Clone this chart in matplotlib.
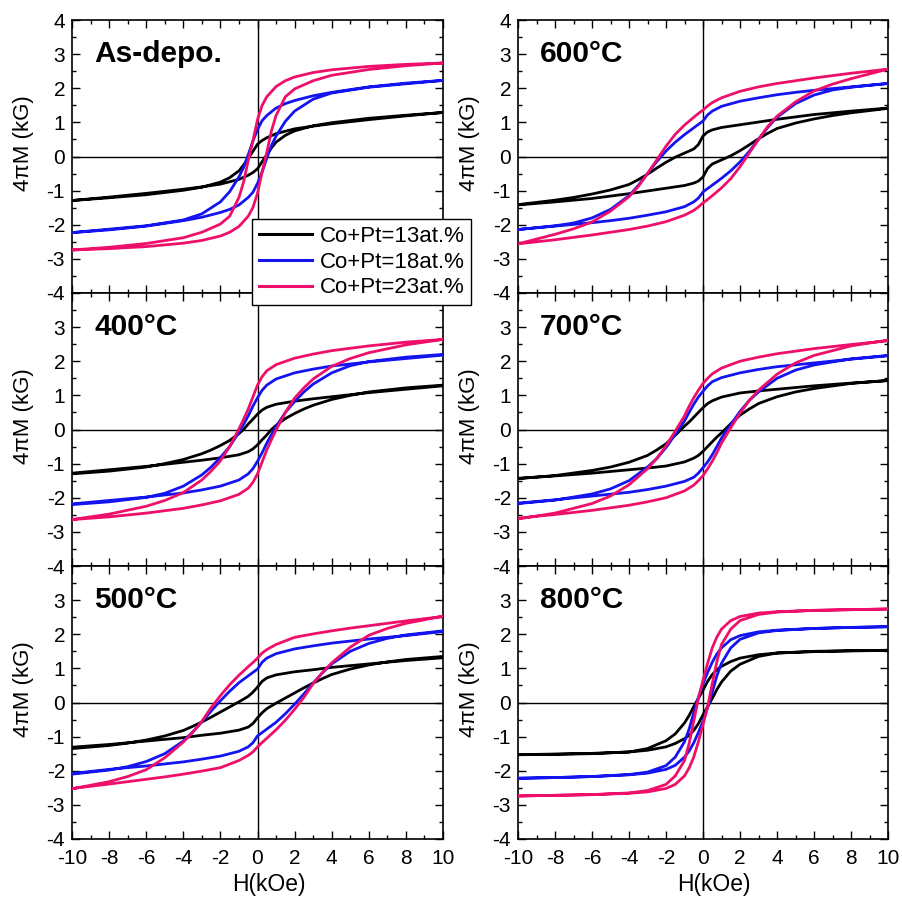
import numpy as np
import matplotlib
matplotlib.use("Agg")
import matplotlib.pyplot as plt
from matplotlib.ticker import MultipleLocator

plt.rcParams['font.family'] = ['Liberation Sans', 'DejaVu Sans']
plt.rcParams['axes.unicode_minus'] = False

# ---- data: upper (descending-field) branch of each loop, H in kOe, 4piM in kG ----
labels = ["Co+Pt=13at.%", "Co+Pt=18at.%", "Co+Pt=23at.%"]
colors = ["#000000", "#1414f0", "#ee0f6a"]

H_asdepo = [10, 8, 6, 4, 3, 2, 1.5, 1, 0.5, 0.25, 0, -0.25, -0.5, -0.75, -1, -1.5, -2, -3, -4, -6, -8, -10]
M_asdepo_13 = [1.29, 1.19, 1.08, 0.96, 0.89, 0.81, 0.74, 0.67, 0.55, 0.47, 0.36, 0.15, -0.05, -0.25, -0.42, -0.62, -0.75, -0.9, -0.99, -1.12, -1.21, -1.29]
M_asdepo_18 = [2.23, 2.15, 2.04, 1.88, 1.78, 1.64, 1.55, 1.42, 1.2, 1.05, 0.79, 0.45, 0.05, -0.32, -0.6, -1.03, -1.33, -1.68, -1.86, -2.03, -2.13, -2.23]
M_asdepo_23 = [2.74, 2.70, 2.64, 2.54, 2.46, 2.33, 2.22, 2.05, 1.75, 1.5, 1.08, 0.45, -0.12, -0.75, -1.2, -1.75, -1.98, -2.22, -2.38, -2.55, -2.66, -2.74]

H_600 = [10, 8, 6, 5, 4, 3, 2, 1, 0.5, 0.25, 0, -0.25, -0.5, -1, -1.5, -2, -2.5, -3, -3.5, -4, -5, -6, -7, -8, -10]
M_600_13 = [1.42, 1.33, 1.23, 1.16, 1.09, 1.01, 0.93, 0.85, 0.78, 0.72, 0.6, 0.35, 0.22, 0.1, -0.02, -0.17, -0.34, -0.52, -0.68, -0.82, -0.98, -1.1, -1.2, -1.28, -1.41]
M_600_18 = [2.14, 2.04, 1.94, 1.88, 1.81, 1.72, 1.62, 1.47, 1.33, 1.22, 1.04, 0.94, 0.84, 0.64, 0.42, 0.16, -0.15, -0.5, -0.85, -1.15, -1.55, -1.8, -1.95, -2.03, -2.14]
M_600_23 = [2.56, 2.44, 2.30, 2.22, 2.14, 2.04, 1.91, 1.72, 1.58, 1.48, 1.36, 1.26, 1.15, 0.92, 0.65, 0.3, -0.1, -0.5, -0.88, -1.18, -1.6, -1.92, -2.12, -2.28, -2.56]

H_400 = [10, 8, 6, 4, 3, 2, 1, 0.5, 0.25, 0, -0.25, -0.5, -0.75, -1, -1.5, -2, -2.5, -3, -4, -5, -6, -8, -10]
M_400_13 = [1.28, 1.18, 1.08, 0.96, 0.9, 0.83, 0.74, 0.65, 0.57, 0.45, 0.3, 0.16, 0.0, -0.12, -0.32, -0.47, -0.6, -0.71, -0.88, -1.0, -1.1, -1.22, -1.3]
M_400_18 = [2.18, 2.08, 1.98, 1.86, 1.77, 1.66, 1.48, 1.3, 1.15, 0.93, 0.68, 0.4, 0.15, -0.08, -0.5, -0.82, -1.1, -1.33, -1.66, -1.87, -1.99, -2.12, -2.2]
M_400_23 = [2.64, 2.56, 2.45, 2.31, 2.21, 2.09, 1.9, 1.72, 1.55, 1.3, 0.95, 0.6, 0.3, 0.02, -0.5, -0.92, -1.22, -1.48, -1.85, -2.08, -2.25, -2.48, -2.64]

H_700 = [10, 8, 6, 4, 3, 2, 1, 0.5, 0.25, 0, -0.25, -0.5, -0.75, -1, -1.5, -2, -2.5, -3, -4, -5, -6, -8, -10]
M_700_13 = [1.43, 1.36, 1.28, 1.18, 1.13, 1.07, 0.95, 0.84, 0.76, 0.64, 0.5, 0.36, 0.22, 0.1, -0.17, -0.42, -0.6, -0.76, -0.96, -1.1, -1.2, -1.35, -1.44]
M_700_18 = [2.16, 2.06, 1.95, 1.84, 1.76, 1.66, 1.52, 1.4, 1.28, 1.12, 0.95, 0.74, 0.5, 0.25, -0.14, -0.53, -0.85, -1.1, -1.5, -1.74, -1.89, -2.07, -2.17]
M_700_23 = [2.6, 2.49, 2.37, 2.22, 2.12, 2.0, 1.8, 1.63, 1.5, 1.35, 1.15, 0.93, 0.68, 0.4, -0.05, -0.48, -0.85, -1.15, -1.62, -1.95, -2.17, -2.45, -2.62]

H_500 = [10, 8, 6, 5, 4, 3, 2, 1, 0.5, 0.25, 0, -0.25, -0.5, -1, -1.5, -2, -2.5, -3, -3.5, -4, -5, -6, -7, -8, -10]
M_500_13 = [1.31, 1.23, 1.13, 1.08, 1.03, 0.96, 0.9, 0.81, 0.72, 0.62, 0.45, 0.3, 0.18, 0.02, -0.13, -0.28, -0.43, -0.57, -0.7, -0.82, -0.98, -1.1, -1.19, -1.26, -1.35]
M_500_18 = [2.08, 1.96, 1.86, 1.8, 1.74, 1.66, 1.57, 1.43, 1.3, 1.18, 0.98, 0.88, 0.78, 0.58, 0.33, 0.05, -0.25, -0.57, -0.87, -1.13, -1.5, -1.73, -1.88, -1.98, -2.1]
M_500_23 = [2.52, 2.39, 2.25, 2.18, 2.1, 2.01, 1.91, 1.7, 1.55, 1.45, 1.3, 1.17, 1.05, 0.8, 0.52, 0.2, -0.15, -0.55, -0.88, -1.16, -1.62, -1.97, -2.17, -2.32, -2.53]

H_800 = [10, 8, 6, 4, 3, 2, 1.5, 1, 0.75, 0.5, 0.25, 0, -0.25, -0.5, -0.75, -1, -1.5, -2, -3, -4, -6, -8, -10]
M_800_13 = [1.53, 1.51, 1.49, 1.45, 1.4, 1.3, 1.2, 1.06, 0.96, 0.82, 0.62, 0.36, 0.12, -0.12, -0.38, -0.6, -0.92, -1.12, -1.35, -1.45, -1.5, -1.52, -1.53]
M_800_18 = [2.22, 2.2, 2.17, 2.12, 2.07, 1.96, 1.84, 1.6, 1.42, 1.18, 0.88, 0.55, 0.15, -0.3, -0.78, -1.15, -1.6, -1.85, -2.04, -2.11, -2.17, -2.2, -2.22]
M_800_23 = [2.74, 2.72, 2.7, 2.66, 2.62, 2.52, 2.4, 2.15, 1.92, 1.6, 1.15, 0.65, 0.12, -0.55, -1.2, -1.7, -2.15, -2.4, -2.58, -2.65, -2.7, -2.72, -2.74]

panel_titles = ["As-depo.", "600\u00b0C", "400\u00b0C", "700\u00b0C", "500\u00b0C", "800\u00b0C"]
panel_H = [H_asdepo, H_600, H_400, H_700, H_500, H_800]
panel_M = [[M_asdepo_13, M_asdepo_18, M_asdepo_23],
           [M_600_13, M_600_18, M_600_23],
           [M_400_13, M_400_18, M_400_23],
           [M_700_13, M_700_18, M_700_23],
           [M_500_13, M_500_18, M_500_23],
           [M_800_13, M_800_18, M_800_23]]

# ---- figure ----
W, Hpx = 903, 898
fig = plt.figure(figsize=(W / 100, Hpx / 100), dpi=100)

col_left = [72, 518]
col_w = [371, 370]
row_top = [20, 293, 566]
row_h = 273

handles = []
for i in range(6):
    r, c = divmod(i, 2)
    x0 = col_left[c] / W
    y0 = 1 - (row_top[r] + row_h) / Hpx
    ax = fig.add_axes([x0, y0, col_w[c] / W, row_h / Hpx])
    ax.axhline(0, color='black', lw=1.0, zorder=1)
    ax.axvline(0, color='black', lw=1.0, zorder=1)
    Hu = np.array(panel_H[i], dtype=float)
    for k in range(3):
        Mu = np.array(panel_M[i][k], dtype=float)
        # full loop: descending branch, then ascending branch (point-symmetric)
        Hloop = np.concatenate([Hu, -Hu])
        Mloop = np.concatenate([Mu, -Mu])
        ln, = ax.plot(Hloop, Mloop, color=colors[k], lw=2.0, zorder=3,
                      solid_joinstyle='round')
        if i == 0:
            handles.append(ln)
    ax.set_xlim(-10, 10)
    ax.set_ylim(-4, 4)
    ax.xaxis.set_major_locator(MultipleLocator(2))
    ax.xaxis.set_minor_locator(MultipleLocator(1))
    ax.yaxis.set_major_locator(MultipleLocator(1))
    ax.yaxis.set_minor_locator(MultipleLocator(0.5))
    ax.tick_params(which='both', direction='in', top=True, right=True,
                   width=1.0, labelsize=15, colors='black')
    ax.tick_params(which='major', length=5.5)
    ax.tick_params(which='minor', length=3)
    ax.tick_params(axis='y', pad=5)
    ax.tick_params(axis='x', pad=7)
    for sp in ax.spines.values():
        sp.set_linewidth(1.2)
    yt = [-4, -3, -2, -1, 0, 1, 2, 3, 4]
    ax.set_yticks(yt)
    if r == 0:
        ax.set_yticklabels([str(v) for v in yt])
    else:
        ax.set_yticklabels([str(v) for v in yt[:-1]] + [""])
    if r < 2:
        ax.set_xticklabels([])
    else:
        ax.set_xlabel("H(kOe)", fontsize=16.5)
        ax.xaxis.set_label_coords(0.53, -0.123)
    ax.set_ylabel("4\u03c0M (kG)", fontsize=16)
    ax.yaxis.set_label_coords(-0.102, 0.55)
    ax.text(0.06, 0.846, panel_titles[i], transform=ax.transAxes,
            fontsize=21.5, fontweight='bold', va='baseline', ha='left')

leg = fig.legend(handles, labels, loc='upper left',
                 bbox_to_anchor=(252 / W, 1 - 219 / Hpx),
                 fontsize=16, frameon=True, fancybox=False,
                 edgecolor='black', framealpha=1, handlelength=2.4,
                 handletextpad=0.35, labelspacing=0.22, borderpad=0.3,
                 borderaxespad=0)
leg.get_frame().set_linewidth(1.0)
for lh in leg.get_lines():
    lh.set_linewidth(2.2)

fig.savefig("out.png", dpi=100)
